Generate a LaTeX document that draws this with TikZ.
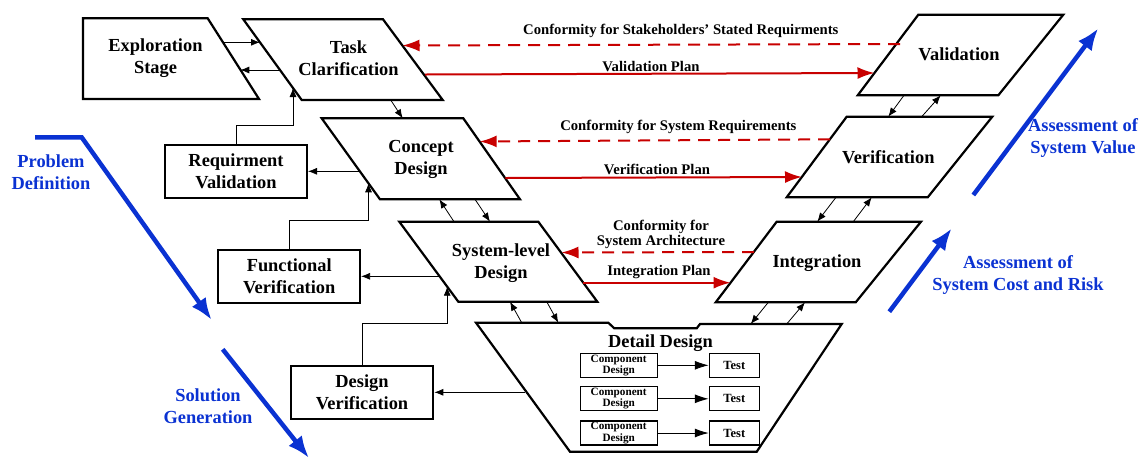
\documentclass[tikz,border=0pt]{standalone}
\usepackage{fontspec}
\setmainfont{Liberation Serif}
\usetikzlibrary{arrows.meta,calc}
\definecolor{vred}{RGB}{200,0,0}
\definecolor{vblue}{RGB}{10,50,210}
\begin{document}
\begin{tikzpicture}[x=1pt,y=-1pt,
  shapeline/.style={draw=black,line width=2.2pt,line join=miter,fill=white},
  boxnode/.style={draw=black,line width=2pt,fill=white,align=center,font=\fontsize{18.4}{22}\selectfont\bfseries,inner sep=0pt},
  smallbox/.style={draw=black,line width=1.1pt,fill=white,align=center,font=\fontsize{11.2}{9.5}\selectfont\bfseries,inner sep=0pt,minimum height=24pt},
  testbox/.style={smallbox,font=\fontsize{12.5}{12}\selectfont\bfseries},
  lbl/.style={align=center,font=\fontsize{18.4}{22}\selectfont\bfseries,inner sep=0pt},
  conn/.style={draw=black,line width=0.8pt,-{Latex[length=9pt,width=7pt]}},
  sconn/.style={draw=black,line width=0.9pt,-{Latex[length=14pt,width=9pt]}},
  redsolid/.style={draw=vred,line width=2pt,-{Latex[length=17pt,width=12pt]}},
  reddash/.style={redsolid,dash pattern=on 12pt off 8pt},
  redlbl/.style={font=\fontsize{14.7}{12.5}\selectfont\bfseries,align=center,inner sep=0pt},
  bluearrow/.style={draw=vblue,line width=4.5pt,-{Latex[length=22pt,width=17pt]}},
  bluelbl/.style={text=vblue,align=center,font=\fontsize{18.4}{22}\selectfont\bfseries,inner sep=0pt}
]
\useasboundingbox (0,0) rectangle (1148,459);

% ---- shapes ----
\draw[shapeline] (83,18.3) -- (207.7,18.3) -- (259,99) -- (83,99) -- cycle;
\node[lbl] (expl) at (155.5,58) {Exploration\\Stage};

\draw[shapeline] (243.3,19.3) -- (383,19.3) -- (442.7,100) -- (301.7,100) -- cycle;
\node[lbl] (task) at (348.5,58.3) {Task\\Clarification};

\draw[shapeline] (321.7,118.3) -- (463.3,118.3) -- (520,199.3) -- (380,199.3) -- cycle;
\node[lbl] (concept) at (421,159) {Concept\\Design};

\draw[shapeline] (399.3,221.7) -- (538.3,221.7) -- (597.3,301.7) -- (458.3,301.7) -- cycle;
\node[lbl] (sld) at (501,263.3) {System-level\\Design};

\draw[shapeline] (476,322.7) -- (608.3,322.7) -- (614.3,328.3) -- (696.7,328.3) -- (700,324) -- (841.7,324) -- (756.7,451.7) -- (570,451.7) -- cycle;
\node[lbl] (detail) at (660.5,343) {Detail Design};

\draw[shapeline] (918.3,14.7) -- (1063.3,14.7) -- (998.3,95.3) -- (857.7,95.3) -- cycle;
\node[lbl] (valid) at (959,54.3) {Validation};

\draw[shapeline] (846.7,116.7) -- (992.3,116.7) -- (927.7,197.3) -- (786.7,197.3) -- cycle;
\node[lbl] (verif) at (888.3,156.7) {Verification};

\draw[shapeline] (776.7,221.7) -- (921,221.7) -- (855.7,302.3) -- (715.7,302.3) -- cycle;
\node[lbl] (integ) at (817,263.3) {Integration};

% ---- boxes ----
\node[boxnode,minimum width=142pt,minimum height=53pt] (rv) at (236,171.3) {Requirment\\Validation};
\node[boxnode,minimum width=141.7pt,minimum height=52.7pt] (fv) at (289.2,276.3) {Functional\\Verification};
\node[boxnode,minimum width=142.6pt,minimum height=53.3pt] (dv) at (362,392.3) {Design\\Verification};

\node[smallbox,minimum width=77.3pt] (cd1) at (618.7,365.3) {Component\\Design};
\node[smallbox,minimum width=77.3pt] (cd2) at (618.7,398.8) {Component\\Design};
\node[smallbox,minimum width=77.3pt] (cd3) at (618.7,433) {Component\\Design};
\node[testbox,minimum width=50pt] (t1) at (734.3,365.3) {Test};
\node[testbox,minimum width=50pt] (t2) at (734.3,398.8) {Test};
\node[testbox,minimum width=50pt] (t3) at (734.3,433) {Test};
\draw[sconn] (cd1) -- (t1);
\draw[sconn] (cd2) -- (t2);
\draw[sconn] (cd3) -- (t3);

% ---- connection points ----
\coordinate (exR1) at (222.8,42.3);
\coordinate (tkL1) at (260,42.3);
\coordinate (tkL2) at (280,70);
\coordinate (exR2) at (240.3,70);
\coordinate (tkIn) at (293,88);
\coordinate (tkB) at (390.7,100);
\coordinate (cdT) at (402.7,118.3);
\coordinate (cdL) at (359.6,171.3);
\coordinate (cdIn) at (368.5,183.3);
\coordinate (cdB1) at (439.3,199.3);
\coordinate (sldT1) at (454,221.7);
\coordinate (cdB2) at (475,199.3);
\coordinate (sldT2) at (490,221.7);
\coordinate (sldL) at (439.6,276.3);
\coordinate (sldIn) at (447.2,286.7);
\coordinate (sldB1) at (510,301.7);
\coordinate (ddT1) at (521.7,322.7);
\coordinate (sldB2) at (546.7,301.7);
\coordinate (ddT2) at (558.3,322.7);
\coordinate (ddL) at (525,392.3);
\coordinate (vaB1) at (904,95.3);
\coordinate (veT1) at (888.3,116.7);
\coordinate (veT2) at (921.7,116.7);
\coordinate (vaB2) at (940.7,95.3);
\coordinate (veB1) at (836,197.3);
\coordinate (inT1) at (817.3,221.7);
\coordinate (inT2) at (853.3,221.7);
\coordinate (veB2) at (871.7,197.3);
\coordinate (inB1) at (768.3,302.3);
\coordinate (ddT3) at (750.7,324);
\coordinate (ddT4) at (786.7,324);
\coordinate (inB2) at (805,302.3);
% red
\coordinate (vaL1) at (900,44);
\coordinate (tkR1) at (402.5,45.5);
\coordinate (tkR2) at (425,74.5);
\coordinate (vaL2) at (874.5,73);
\coordinate (veL1) at (830,139.3);
\coordinate (cdR1) at (479.7,141.5);
\coordinate (cdR2) at (505.3,178);
\coordinate (veL2) at (802,177);
\coordinate (inL1) at (754,252);
\coordinate (sldR1) at (561.5,252.5);
\coordinate (sldR2) at (583.3,282.7);
\coordinate (inL2) at (730.5,282.7);

% ---- black connectors ----
\draw[conn] (exR1) -- (tkL1);
\draw[conn] (tkL2) -- (exR2);
\draw[conn] (rv.north) -- ++(0,-18.3) -| (tkIn);
\draw[conn] (tkB) -- (cdT);
\draw[conn] (cdL) -- (rv.east);
\draw[conn] (fv.north) -- ++(0,-29) -| (cdIn);
\draw[conn] (sldT1) -- (cdB1);
\draw[conn] (cdB2) -- (sldT2);
\draw[conn] (sldL) -- (fv.east);
\draw[conn] (dv.north) -- ++(0,-41.7) -| (sldIn);
\draw[conn] (ddT1) -- (sldB1);
\draw[conn] (sldB2) -- (ddT2);
\draw[conn] (ddL) -- (dv.east);
\draw[conn] (vaB1) -- (veT1);
\draw[conn] (veT2) -- (vaB2);
\draw[conn] (veB1) -- (inT1);
\draw[conn] (inT2) -- (veB2);
\draw[conn] (inB1) -- (ddT3);
\draw[conn] (ddT4) -- (inB2);

% ---- red connectors ----
\draw[reddash] (vaL1) -- (tkR1);
\node[redlbl] (l1) at (680.8,30.7) {Conformity for Stakeholders’ Stated Requirments};
\draw[redsolid] (tkR2) -- (vaL2);
\node[redlbl] (l2) at (651,66.2) {Validation Plan};
\draw[reddash] (veL1) -- (cdR1);
\node[redlbl] (l3) at (678.3,127.3) {Conformity for System Requirements};
\draw[redsolid] (cdR2) -- (veL2);
\node[redlbl] (l4) at (657,169.3) {Verification Plan};
\draw[reddash] (inL1) -- (sldR1);
\node[redlbl] (l5) at (661,234.5) {Conformity for\\System Architecture};
\draw[redsolid] (sldR2) -- (inL2);
\node[redlbl] (l6) at (659,272) {Integration Plan};

% ---- blue arrows ----
\coordinate (pd0) at (35,137.3);
\coordinate (pd1) at (81.7,137.3);
\coordinate (pd2) at (211.7,320);
\draw[bluearrow] (pd0) -- (pd1) -- (pd2);
\node[bluelbl] (pdl) at (51,172.5) {Problem\\Definition};
\coordinate (sg0) at (222.7,349.3);
\coordinate (sg1) at (309,458);
\draw[bluearrow] (sg0) -- (sg1);
\node[bluelbl] (sgl) at (208,406.3) {Solution\\Generation};
\coordinate (sv0) at (973.3,195);
\coordinate (sv1) at (1098.3,28.3);
\draw[bluearrow] (sv0) -- (sv1);
\node[bluelbl] (svl) at (1083,138.3) {Assessment of\\System Value};
\coordinate (sc0) at (889.3,311.7);
\coordinate (sc1) at (951.7,228.3);
\draw[bluearrow] (sc0) -- (sc1);
\node[bluelbl] (scl) at (1018,275) {Assessment of\\System Cost and Risk};
\end{tikzpicture}
\end{document}
